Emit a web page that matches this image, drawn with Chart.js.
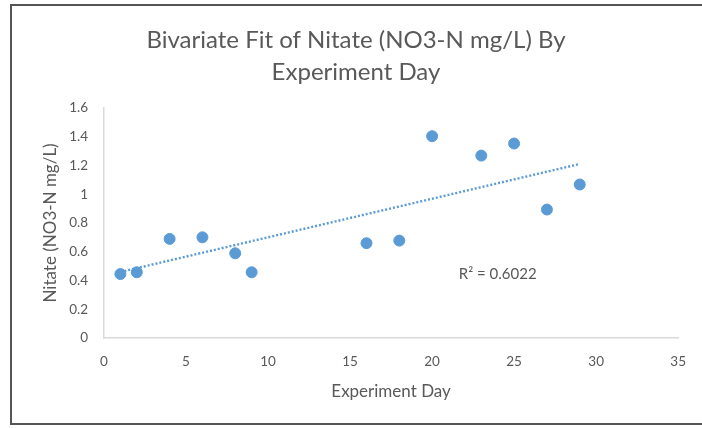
<!DOCTYPE html>
<html>
<head>
<meta charset="utf-8">
<script src="https://cdn.jsdelivr.net/npm/chart.js@4"></script>
<style>
  html, body { margin: 0; padding: 0; background: #fff; }
  #wrap { position: relative; width: 702px; height: 428px; overflow: hidden; }
  #frame {
    position: absolute; left: 10px; top: 4px; width: 800px; height: 421px;
    border: 2px solid #555; border-right: none; box-sizing: border-box;
  }
  canvas { position: absolute; left: 0; top: 0; }
</style>
</head>
<body>
<div id="wrap">
  <div id="frame"></div>
  <canvas id="nitrateChart" width="702" height="428"></canvas>
</div>
<script>
const days = [1, 2, 4, 6, 8, 9, 16, 18, 20, 23, 25, 27, 29];
const nitrate = [0.445, 0.457, 0.689, 0.70, 0.589, 0.457, 0.659, 0.677, 1.403, 1.268, 1.352, 0.893, 1.067];
const rSquaredText = "R² = 0.6022";
const rSquaredAt = { x: 24, y: 0.445 };

// least squares fit for the dotted trendline
function linearFit(xs, ys) {
  let n = xs.length, sx = 0, sy = 0, sxy = 0, sxx = 0;
  for (let i = 0; i < n; i++) {
    sx += xs[i]; sy += ys[i];
    sxy += xs[i] * ys[i]; sxx += xs[i] * xs[i];
  }
  const slope = (n * sxy - sx * sy) / (n * sxx - sx * sx);
  const intercept = (sy - slope * sx) / n;
  return { slope, intercept };
}

const fit = linearFit(days, nitrate);
const xFirst = Math.min(...days);
const xLast = Math.max(...days);
const trend = [
  { x: xFirst, y: fit.intercept + fit.slope * xFirst },
  { x: xLast, y: fit.intercept + fit.slope * xLast },
];

const points = days.map((d, i) => ({ x: d, y: nitrate[i] }));

const textColor = "#595959";
const blue = "#5b9bd5";
const fontFamily = "Lato, 'Open Sans', sans-serif";

const rSquaredLabel = {
  id: "rSquaredLabel",
  afterDatasetsDraw(chart) {
    const ctx = chart.ctx;
    const px = chart.scales.x.getPixelForValue(rSquaredAt.x);
    const py = chart.scales.y.getPixelForValue(rSquaredAt.y);
    ctx.save();
    ctx.font = "15px " + fontFamily;
    ctx.fillStyle = textColor;
    ctx.textAlign = "center";
    ctx.textBaseline = "middle";
    ctx.fillText(rSquaredText, px, py);
    ctx.restore();
  },
};

new Chart(document.getElementById("nitrateChart"), {
  type: "scatter",
  data: {
    datasets: [
      {
        label: "Nitate",
        data: points,
        backgroundColor: blue,
        borderColor: blue,
        pointRadius: 5.5,
        pointHoverRadius: 5.5,
        order: 1,
      },
      {
        label: "Trend",
        type: "line",
        data: trend,
        borderColor: blue,
        borderWidth: 2.4,
        borderDash: [2, 2],
        pointRadius: 0,
        fill: false,
        order: 2,
      },
    ],
  },
  options: {
    responsive: false,
    animation: false,
    devicePixelRatio: 1,
    layout: {
      padding: { left: 30, right: 20, top: 14, bottom: 26 },
    },
    plugins: {
      legend: { display: false },
      tooltip: { enabled: false },
      title: {
        display: true,
        text: ["Bivariate Fit of Nitate (NO3-N mg/L) By", "Experiment Day"],
        color: textColor,
        font: { family: fontFamily, size: 24, weight: "normal", lineHeight: 1.33 },
        padding: { top: 10, bottom: 20 },
      },
    },
    scales: {
      x: {
        type: "linear",
        min: 0,
        max: 35,
        afterFit(scale) { scale.height = 64; },
        grid: { display: false, drawTicks: false },
        border: { display: true, color: "#d9d9d9", width: 1.5 },
        ticks: {
          stepSize: 5,
          padding: 16,
          color: textColor,
          font: { family: fontFamily, size: 13.5 },
        },
        title: {
          display: true,
          text: "Experiment Day",
          color: textColor,
          font: { family: fontFamily, size: 17 },
          padding: { top: 0, bottom: 0 },
        },
      },
      y: {
        min: 0,
        max: 1.6,
        afterFit(scale) { scale.width = 74; },
        grid: { display: false, drawTicks: false },
        border: { display: true, color: "#d9d9d9", width: 1.5 },
        ticks: {
          stepSize: 0.2,
          padding: 16,
          color: textColor,
          font: { family: fontFamily, size: 13.5 },
          callback: (v) => String(Number(v.toFixed(1))),
        },
        title: {
          display: true,
          text: "Nitate (NO3-N mg/L)",
          color: textColor,
          font: { family: fontFamily, size: 17 },
          padding: { top: 10, bottom: 0 },
        },
      },
    },
  },
  plugins: [rSquaredLabel],
});
</script>
</body>
</html>
